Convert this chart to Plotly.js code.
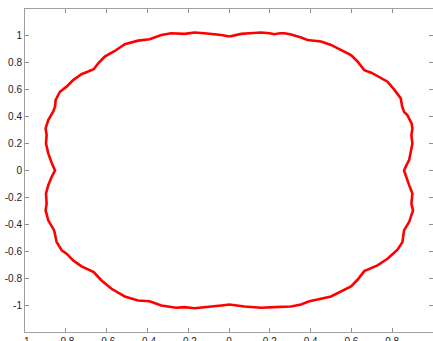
<!DOCTYPE html>
<html>
<head>
<meta charset="utf-8">
<script src="https://cdn.plot.ly/plotly-3.0.1.min.js"></script>
<style>html,body{margin:0;padding:0;background:#fff;}#chart{width:433px;height:341px;}</style>
</head>
<body>
<div id="chart"></div>
<script>
// Curve points traced clockwise, starting at top (x=0)
const curveX = [
  0.002, 0.03, 0.06, 0.10, 0.157, 0.20, 0.222, 0.25, 0.271, 0.30, 0.320, 0.35, 0.385, 0.42, 0.451, 0.50, 0.53, 0.549, 0.598, 0.63, 0.663, 0.70, 0.728, 0.777, 0.809, 0.83, 0.842, 0.848, 0.858, 0.875, 0.883, 0.895, 0.899, 0.894, 0.899, 0.893, 0.883, 0.87, 0.858,
  0.883, 0.899, 0.894, 0.902, 0.883, 0.858, 0.85, 0.826, 0.777, 0.728, 0.663, 0.63, 0.598, 0.540, 0.50, 0.451, 0.394, 0.353, 0.304, 0.222, 0.157, 0.076, 0.002,
  -0.038, -0.10, -0.169, -0.218, -0.26, -0.332, -0.389, -0.446, -0.511, -0.576, -0.625, -0.663, -0.723, -0.764, -0.796, -0.82, -0.845, -0.857, -0.886, -0.899, -0.894, -0.897, -0.886, -0.87, -0.853,
  -0.87, -0.886, -0.897, -0.894, -0.899, -0.886, -0.862, -0.853, -0.850, -0.829, -0.796, -0.764, -0.723, -0.663, -0.641, -0.609, -0.560, -0.511, -0.446, -0.389, -0.332, -0.283, -0.218, -0.169, -0.120, -0.038, 0.002
];
const curveY = [
  0.995, 1.005, 1.015, 1.02, 1.025, 1.02, 1.013, 1.02, 1.02, 1.012, 1.005, 0.99, 0.970, 0.965, 0.958, 0.933, 0.91, 0.891, 0.858, 0.81, 0.746, 0.725, 0.702, 0.660, 0.603, 0.565, 0.536, 0.48, 0.436, 0.41, 0.387, 0.35, 0.313, 0.26, 0.20, 0.14, 0.077, 0.04, 0.0,
  -0.109, -0.171, -0.246, -0.296, -0.383, -0.445, -0.532, -0.589, -0.656, -0.705, -0.748, -0.812, -0.862, -0.904, -0.936, -0.953, -0.971, -0.996, -1.01, -1.015, -1.02, -1.01, -0.996,
  -1.003, -1.015, -1.023, -1.015, -1.02, -1.003, -0.971, -0.966, -0.936, -0.879, -0.817, -0.755, -0.712, -0.668, -0.618, -0.593, -0.532, -0.445, -0.370, -0.296, -0.246, -0.171, -0.109, -0.05, 0.0,
  0.06, 0.127, 0.20, 0.263, 0.313, 0.375, 0.437, 0.474, 0.523, 0.585, 0.623, 0.672, 0.715, 0.752, 0.797, 0.846, 0.888, 0.938, 0.965, 0.975, 1.007, 1.02, 1.015, 1.025, 1.02, 1.007, 0.995
];
const xTickVals = [-1, -0.8, -0.6, -0.4, -0.2, 0, 0.2, 0.4, 0.6, 0.8, 1];
const xTickText = ["-1", "-0.8", "-0.6", "-0.4", "-0.2", "0", "0.2", "0.4", "0.6", "0.8", ""];
const yTickVals = [-1, -0.8, -0.6, -0.4, -0.2, 0, 0.2, 0.4, 0.6, 0.8, 1];
const yTickText = ["-1", "-0.8", "-0.6", "-0.4", "-0.2", "0", "0.2", "0.4", "0.6", "0.8", "1"];

const axisCommon = {
  showgrid: false, zeroline: false, showline: true, mirror: 'ticks',
  linecolor: '#a0a0a0', linewidth: 1,
  ticks: 'inside', ticklen: 4, tickcolor: '#909090', tickwidth: 1,
  tickfont: {family: 'Liberation Sans, Arial, sans-serif', size: 10, color: '#222'},
  tickmode: 'array', fixedrange: true
};

Plotly.newPlot('chart', [{
  x: curveX, y: curveY, type: 'scatter', mode: 'lines',
  line: {color: '#ff0000', width: 2.6, shape: 'linear'},
  hoverinfo: 'skip'
}], {
  width: 433, height: 341,
  margin: {l: 25, r: 0, t: 9, b: 9, pad: 0},
  paper_bgcolor: '#fff', plot_bgcolor: '#fff',
  showlegend: false,
  xaxis: Object.assign({}, axisCommon, {range: [-1, 1], tickvals: xTickVals, ticktext: xTickText}),
  yaxis: Object.assign({}, axisCommon, {range: [-1.2, 1.2], tickvals: yTickVals, ticktext: yTickText})
}, {staticPlot: true, displayModeBar: false});
</script>
</body>
</html>
